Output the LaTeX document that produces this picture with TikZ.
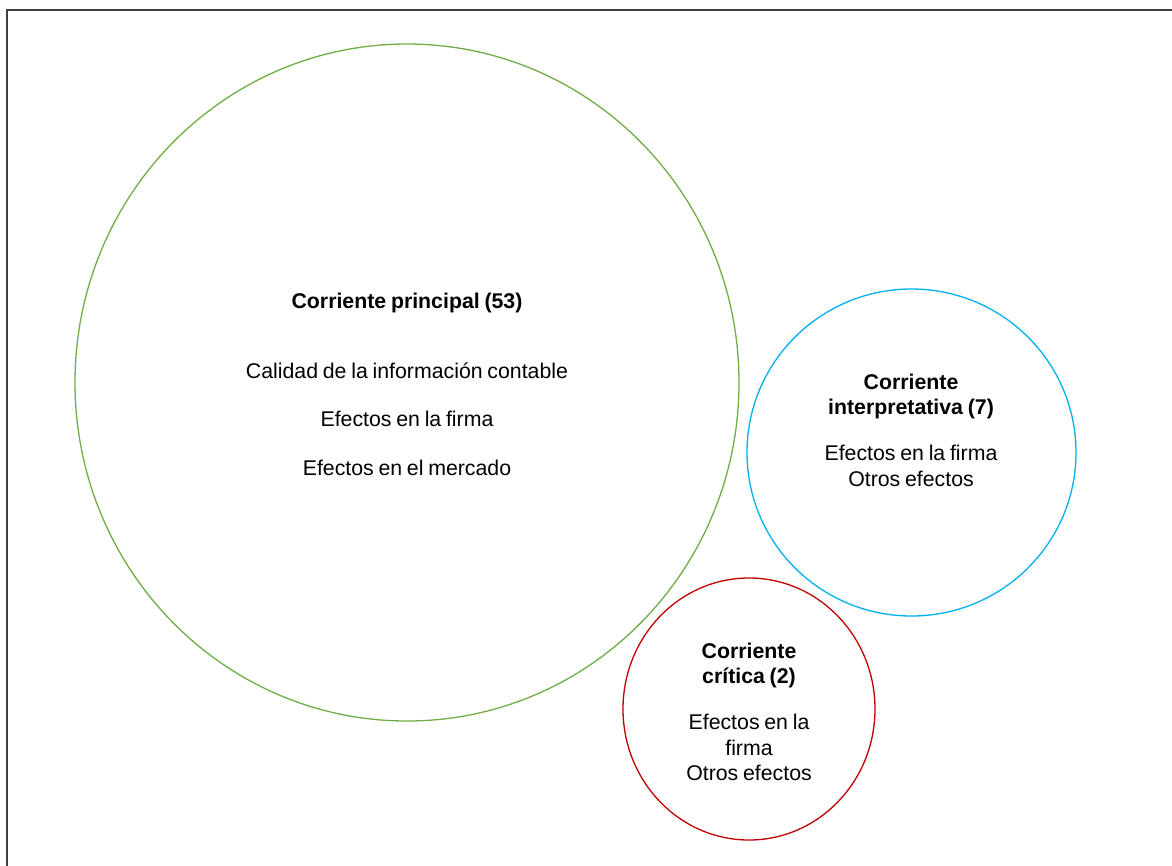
\documentclass[tikz,border=0pt]{standalone}
\usepackage{fontspec}
\setmainfont{Liberation Sans}[WordSpace=0.8]
\definecolor{maingreen}{HTML}{70AD47}
\definecolor{interblue}{HTML}{00B0F0}
\definecolor{critred}{HTML}{C00000}

\begin{document}
\begin{tikzpicture}[x=1pt,y=-1pt,
  stream/.style={line width=1.3pt},
  label/.style={align=center, inner sep=0pt, font=\fontsize{21.3}{25.5}\selectfont}]
\useasboundingbox (0,0) rectangle (1172,865);
% Frame (only top and left edges fall inside the page)
\draw[line width=2pt, black!75] (7,1000) -- (7,9.5) -- (1300,9.5);
% Draw the three streams
\draw[stream, maingreen] (407,382.5) ellipse [x radius=332, y radius=338.5];
\draw[stream, interblue] (911.5,452.5) ellipse [x radius=164.5, y radius=163.5];
\draw[stream, critred] (749,709) ellipse [x radius=126, y radius=131];
% Texts
\node[label, font=\fontsize{21.3}{48.5}\selectfont] (principal) at (407,384)
  {\textbf{Corriente principal (53)}\\[21.5pt]
   Calidad de la información contable\\
   Efectos en la firma\\
   Efectos en el mercado};
\node[label] (interpretativa) at (911,430)
  {\textbf{Corriente}\\ \textbf{interpretativa (7)}\\[20.5pt]
   Efectos en la firma\\ Otros efectos};
\node[label] (critica) at (749,712)
  {\textbf{Corriente}\\ \textbf{crítica (2)}\\[20.5pt]
   Efectos en la\\ firma\\ Otros efectos};
\end{tikzpicture}
\end{document}
